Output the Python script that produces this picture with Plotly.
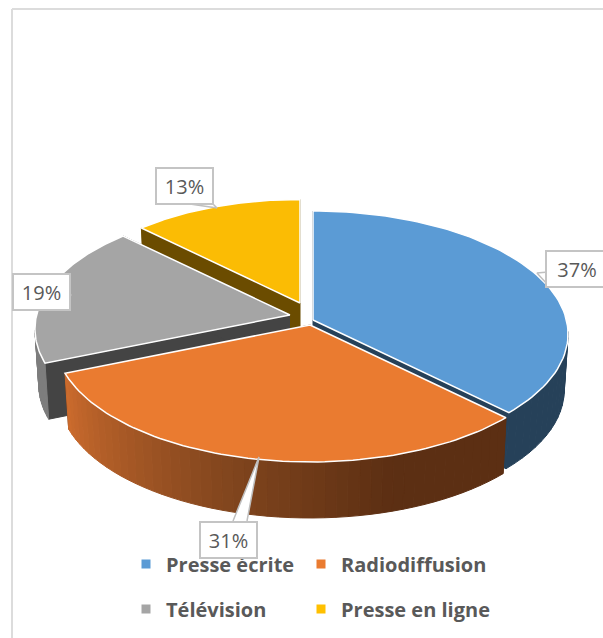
import math
import plotly.graph_objects as go

labels = ["Presse écrite", "Radiodiffusion", "Télévision", "Presse en ligne"]
shares = [37.4, 31.4, 18.6, 12.6]
percent_text = ["37%", "31%", "19%", "13%"]
top_colors = ["#5b9bd5", "#ea7b30", "#a5a5a5", "#fbbc04"]
cut_colors = ["#264159", "#5c2f13", "#444444", "#6b4c00"]
# Wall shading along the slice: (fraction of the slice's sweep, colour)
wall_stops = [
    [(0.0, (38, 65, 89)), (1.0, (38, 65, 89))],
    [(0.0, (92, 47, 19)), (0.25, (92, 47, 19)), (0.55, (130, 70, 30)), (1.0, (205, 108, 46))],
    [(0.0, (125, 125, 125)), (1.0, (125, 125, 125))],
    [(0.0, (107, 76, 0)), (1.0, (107, 76, 0))],
]
# Layout of the exploded pie, in pixels
apex_x = [313, 310, 290, 300]
apex_y = [320, 325, 315, 303]
scale = [1.0, 1.0, 1.0, 0.95]
A, B, K = 253.4, 121.4, 0.1137
DEPTH = 56
draw_order = [3, 2, 0, 1]

label_x = [577, 228, 41, 184]
label_y = [269, 540, 292, 186]
pointers = [
    [(548, 272), (537, 273), (548, 285)],
    [(233, 521), (259, 457), (247, 521)],
    [(69, 292), (71, 295), (69, 298)],
    [(190, 204), (217, 208), (213, 204)],
]
legend_x = [126, 301, 126, 301]
legend_y = [564, 564, 609, 609]
legend_ids = ["legend", "legend2", "legend3", "legend4"]


def rim(i, theta, lower=False):
    u, v = math.sin(theta), math.cos(theta)
    d = 1 + K * v
    x = A * u / d * scale[i]
    y = -B * v / d * scale[i]
    if lower:
        return apex_x[i] + 0.985 * x, apex_y[i] + y + DEPTH
    return apex_x[i] + x, apex_y[i] + y


def mix(stops, t):
    for (t0, c0), (t1, c1) in zip(stops, stops[1:]):
        if t <= t1:
            f = (t - t0) / (t1 - t0)
            return "rgb(%d,%d,%d)" % tuple(a + (b - a) * f for a, b in zip(c0, c1))
    return "rgb(%d,%d,%d)" % stops[-1][1]


fig = go.Figure()


def poly(xs, ys, fill, line=None, width=1):
    fig.add_trace(go.Scatter(x=xs, y=ys, mode="lines", fill="toself", fillcolor=fill,
                             line=dict(color=line or fill, width=width),
                             hoverinfo="skip", showlegend=False))


total = sum(shares)
starts, acc = [], 0
for s in shares:
    starts.append(acc / total * 2 * math.pi)
    acc += s

for i in draw_order:
    a0 = starts[i]
    a1 = a0 + shares[i] / total * 2 * math.pi
    # cut faces
    for a in (a0, a1):
        x, y = rim(i, a)
        xb, yb = rim(i, a, True)
        poly([apex_x[i], x, xb, apex_x[i]], [apex_y[i], y, yb, apex_y[i] + DEPTH], cut_colors[i])
    # outer wall, only where it faces the viewer
    n = 48
    for k in range(n):
        t0, t1 = k / n, (k + 1) / n
        b0, b1 = a0 + (a1 - a0) * t0, a0 + (a1 - a0) * t1
        if math.cos((b0 + b1) / 2) < -K:
            p0, p1 = rim(i, b0), rim(i, b1)
            q0, q1 = rim(i, b0, True), rim(i, b1, True)
            c = mix(wall_stops[i], (t0 + t1) / 2)
            poly([p0[0], p1[0], q1[0], q0[0], p0[0]], [p0[1], p1[1], q1[1], q0[1], p0[1]], c)
    # top face
    pts = [rim(i, a0 + (a1 - a0) * k / 80) for k in range(81)]
    xs = [apex_x[i]] + [p[0] for p in pts] + [apex_x[i]]
    ys = [apex_y[i]] + [p[1] for p in pts] + [apex_y[i]]
    poly(xs, ys, top_colors[i], "white", 1.5)

# callout pointers
for tri in pointers:
    poly([p[0] for p in tri], [p[1] for p in tri], "white", "#bfbfbf", 1.5)

# legend entries, in two rows
for i, (name, col) in enumerate(zip(labels, top_colors)):
    fig.add_trace(go.Scatter(x=[None], y=[None], mode="markers", name=name,
                             marker=dict(symbol="square", size=9, color="#ffc000" if i == 3 else col),
                             legend=legend_ids[i]))

for txt, x, y, in zip(percent_text, label_x, label_y):
    w = 60 if txt == "37%" else 55
    fig.add_annotation(x=x, y=y, text=txt, showarrow=False, width=w, height=34,
                       bgcolor="white", bordercolor="#c4c4c4", borderwidth=2, borderpad=0,
                       font=dict(family="Open Sans", size=20, color="#595959"))

legends = {}
for lid, lx, ly in zip(legend_ids, legend_x, legend_y):
    legends[lid] = dict(x=lx / 603, y=1 - ly / 638, orientation="h",
                        bgcolor="rgba(0,0,0,0)", xanchor="left", yanchor="middle", itemwidth=30,
                        font=dict(family="Open Sans", size=20, color="#595959", weight="bold"))

fig.update_layout(
    width=603, height=638, margin=dict(l=0, r=0, t=0, b=0),
    paper_bgcolor="white", plot_bgcolor="white",
    xaxis=dict(range=[0, 603], visible=False, fixedrange=True),
    yaxis=dict(range=[638, 0], visible=False, fixedrange=True),
    shapes=[
        dict(type="line", x0=12, x1=603, y0=9, y1=9, line=dict(color="#dcdcdc", width=2), layer="below"),
        dict(type="line", x0=12, x1=12, y0=9, y1=638, line=dict(color="#dcdcdc", width=2), layer="below"),
    ],
    **legends,
)

fig.write_html("out.html", config={"displayModeBar": False},
               post_script="document.body.style.margin='0';document.body.style.overflow='hidden';")
